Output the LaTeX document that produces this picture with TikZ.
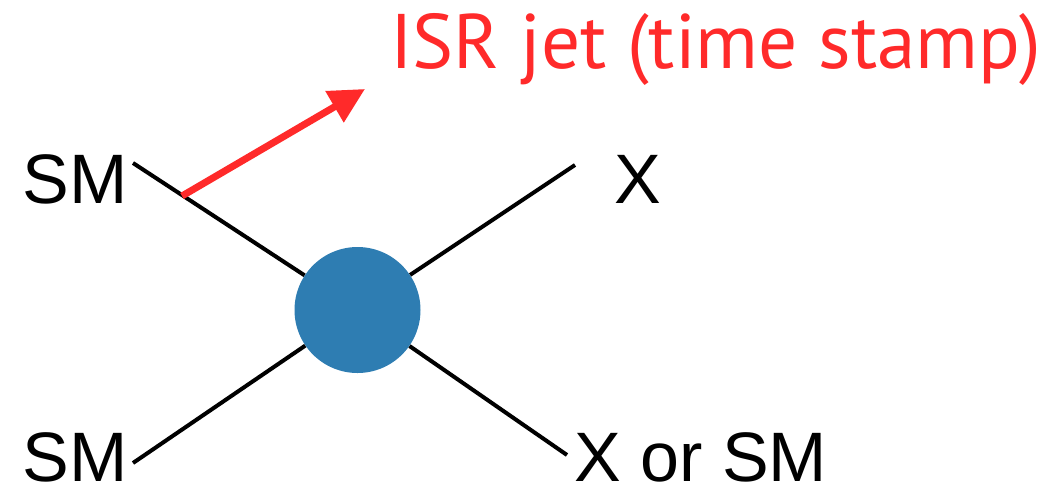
\documentclass[tikz,border=0pt]{standalone}
\usepackage{xcolor}
\usepackage{fontspec}
\setmainfont{Liberation Sans}
\newfontfamily\isrfont{PT Sans}
\usepackage{tikz}
\usetikzlibrary{arrows.meta}

\definecolor{blobblue}{RGB}{46,125,178}
\definecolor{isrred}{RGB}{255,42,42}

\tikzset{
  leg/.style={draw=black, line width=3pt},
  lbl/.style={inner sep=0pt, font=\fontsize{52.5}{60}\selectfont},
}

\begin{document}
\begin{tikzpicture}[x=0.75pt,y=0.75pt,yscale=-1,xscale=1]
\useasboundingbox (0,0) rectangle (1058,490);

% legs, free ends
\coordinate (tl) at (133,163);
\coordinate (tr) at (575,165);
\coordinate (bl) at (133,463);
\coordinate (br) at (567,455);
\coordinate (isrstart) at (182,196);
\coordinate (isrtip) at (365,89);

% Blob
\node (blob) [circle, fill=blobblue, minimum size=94.5pt, inner sep=0pt] at (357.5,310) {};

% Connection
\draw [leg] (tl) -- (blob);
\draw [leg] (tr) -- (blob);
\draw [leg] (bl) -- (blob);
\draw [leg] (br) -- (blob);
% ISR arrow
\draw [isrred, line width=5.25pt, -{Triangle[length=26.5pt,width=26pt]}] (isrstart) -- (isrtip);

% Text Node
\node (smtop) [lbl, anchor=base east] at (128,203) {SM};
\node (xtop) [lbl, anchor=base west] at (614,203) {X};
\node (smbot) [lbl, anchor=base east] at (128,481) {SM};
\node (xbot) [lbl, anchor=base west] at (574,481) {X or SM};
\node (isr) [inner sep=0pt, anchor=base west, text=isrred, font=\isrfont\fontsize{58}{66}\selectfont] at (390,68) {ISR jet (time stamp)};

\end{tikzpicture}
\end{document}
